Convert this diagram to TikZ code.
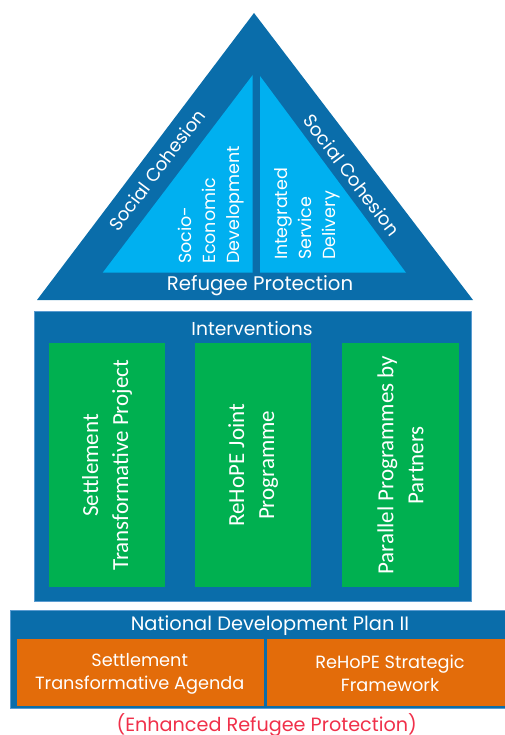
\documentclass[tikz,border=0pt]{standalone}
\usepackage{fontspec}
\setmainfont{Poppins}
\newfontfamily\calib{Carlito}
\definecolor{dblue}{HTML}{0A6DAA}
\definecolor{lblue}{HTML}{00B0F0}
\definecolor{bord}{HTML}{5A9BD0}
\definecolor{grn}{HTML}{00B050}
\definecolor{org}{HTML}{E36C0A}
\definecolor{redt}{HTML}{F0304A}
\begin{document}
\begin{tikzpicture}[x=1pt,y=-1pt,
  wtext/.style={text=white, inner sep=0pt},
  gbox/.style={fill=grn, draw=none, minimum width=116.5pt, minimum height=244pt, inner sep=0pt},
  obox/.style={fill=org, draw=none, minimum height=66.7pt, inner sep=0pt},
  panel/.style={fill=dblue, draw=bord, line width=0.8pt},
  gtext/.style={text=white, rotate=90, align=center, font=\calib\fontsize{23}{30}\selectfont, inner sep=0pt},
  ttext/.style={text=white, inner sep=0pt, font=\fontsize{17.5}{24}\selectfont}]
\useasboundingbox (0,0) rectangle (504,735);
% triangle
\fill[dblue] (37,300) -- (254,13) -- (473,300) -- cycle;
\fill[lblue] (102.7,272.7) -- (252.7,75) -- (252.7,272.7) -- cycle;
\fill[lblue] (260,272.7) -- (260,76) -- (406,272.7) -- cycle;
\node[wtext, rotate=52.9, font=\fontsize{18.3}{20}\selectfont] (scl) at (156.7,170) {Social Cohesion};
\node[wtext, rotate=-52.9, font=\fontsize{18.3}{20}\selectfont] (scr) at (351.7,175) {Social Cohesion};
\node[ttext, rotate=90, align=left] (sed) at (211,205) {Socio-\\Economic\\Development};
\node[ttext, rotate=90, align=left] (isd) at (307.5,214) {Integrated\\Service\\Delivery};
\node[wtext, font=\fontsize{19.7}{22}\selectfont] (rp) at (260,286) {Refugee Protection};
% interventions
\draw[panel] (34,311.7) rectangle (471.7,601);
\node[wtext, font=\fontsize{18.7}{20}\selectfont] (int) at (252,328) {Interventions};
\node[gbox] (g1) at (107.2,465.3) {};
\node[gbox] (g2) at (253.2,465.3) {};
\node[gbox] (g3) at (400.5,465.3) {};
\node[gtext] at (g1) {Settlement\\Transformative Project};
\node[gtext] at (g2) {ReHoPE Joint\\Programme};
\node[gtext] at (g3) {Parallel Programmes by\\Partners};
% NDP
\draw[panel] (10,610) rectangle (506,708.3);
\node[wtext, font=\fontsize{19.4}{20}\selectfont] (ndp) at (270,626) {National Development Plan II};
\node[obox, minimum width=247pt] (o1) at (140.8,672.7) {};
\node[obox, minimum width=240pt] (o2) at (386.7,672.7) {};
\node[wtext, align=center, font=\fontsize{17.7}{23.3}\selectfont] at (139.7,673.5) {Settlement\\Transformative Agenda};
\node[wtext, align=center, font=\fontsize{17.7}{23.3}\selectfont] at (390,673.5) {ReHoPE Strategic\\Framework};
\node[text=redt, inner sep=0pt, font=\fontsize{19.2}{20}\selectfont] (erp) at (266.7,725.5) {(Enhanced Refugee Protection)};
\end{tikzpicture}
\end{document}
